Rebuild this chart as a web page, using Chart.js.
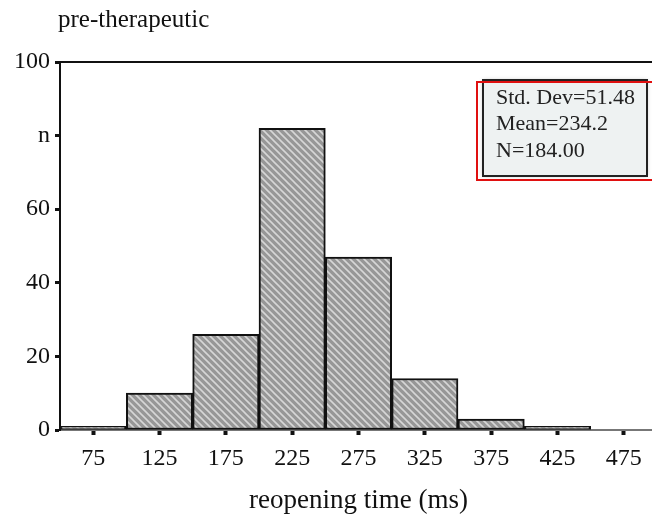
<!DOCTYPE html>
<html>
<head>
<meta charset="utf-8">
<script src="https://cdn.jsdelivr.net/npm/chart.js@4/dist/chart.umd.min.js"></script>
<style>
    html, body { margin: 0; padding: 0; background: #fff; overflow: hidden; }
    #wrap { width: 660px; height: 517px; }
</style>
</head>
<body>
<div id="wrap"><canvas id="histogram" width="660" height="517"></canvas></div>
<script>
// Histogram data
const binLabels = ['75', '125', '175', '225', '275', '325', '375', '425', '475'];
const counts = [1, 10, 26, 82, 47, 14, 3, 1, 0];
const yTickValues = [0, 20, 40, 60, 80, 100];
const yTickLabels = ['0', '20', '40', '60', 'n', '100'];
const statLines = ['Std. Dev=51.48', 'Mean=234.2', 'N=184.00'];
const panelTitle = 'pre-therapeutic';
const xTitle = 'reopening time (ms)';

const serif = '"Liberation Serif", "Times New Roman", serif';

// Grey fill with light diagonal hatching
function makeHatch() {
    const size = 7;
    const c = document.createElement('canvas');
    c.width = size;
    c.height = size;
    const g = c.getContext('2d');
    g.fillStyle = '#979797';
    g.fillRect(0, 0, size, size);
    g.strokeStyle = '#d6d6d6';
    g.lineWidth = 1.6;
    g.beginPath();
    g.moveTo(-1, -1); g.lineTo(size + 1, size + 1);
    g.moveTo(-1, size - 1); g.lineTo(1, size + 1);
    g.moveTo(size - 1, -1); g.lineTo(size + 1, 1);
    g.stroke();
    return g.createPattern(c, 'repeat');
}

// Title text and the statistics box
const annotations = {
    id: 'annotations',
    afterDraw(chart) {
        const ctx = chart.ctx;
        const area = chart.chartArea;
        ctx.save();

        ctx.fillStyle = '#111';
        ctx.font = '25px ' + serif;
        ctx.textBaseline = 'middle';
        ctx.textAlign = 'left';
        ctx.fillText(panelTitle, area.left - 2, 20);

        const bx = area.left + 423, by = area.top + 18, bw = 164, bh = 96;
        ctx.shadowColor = 'rgba(0,0,0,0.25)';
        ctx.shadowBlur = 4;
        ctx.fillStyle = '#eef2f2';
        ctx.fillRect(bx, by, bw, bh);
        ctx.shadowColor = 'transparent';
        ctx.strokeStyle = '#222';
        ctx.lineWidth = 2;
        ctx.strokeRect(bx, by, bw, bh);
        ctx.strokeStyle = '#e01010';
        ctx.lineWidth = 2;
        ctx.strokeRect(bx - 6, by + 2, bw + 20, bh + 2);

        ctx.fillStyle = '#222';
        ctx.font = '22px ' + serif;
        statLines.forEach((line, i) => {
            ctx.fillText(line, bx + 13, by + 18 + i * 26.5);
        });
        ctx.restore();
    }
};

const ctx = document.getElementById('histogram').getContext('2d');
new Chart(ctx, {
    type: 'bar',
    data: {
        labels: binLabels,
        datasets: [{
            data: counts,
            backgroundColor: makeHatch(),
            borderColor: '#111',
            borderWidth: 2,
            borderSkipped: false,
            barPercentage: 1,
            categoryPercentage: 1
        }]
    },
    options: {
        responsive: false,
        animation: false,
        layout: { padding: { top: 62, right: 3, left: 0, bottom: 0 } },
        plugins: {
            legend: { display: false },
            tooltip: { enabled: false }
        },
        scales: {
            x: {
                position: 'bottom',
                grid: {
                    drawOnChartArea: false,
                    offset: false,
                    color: '#111',
                    tickLength: 5,
                    tickWidth: 4
                },
                border: { color: '#777', width: 2 },
                ticks: {
                    color: '#111',
                    padding: 9,
                    font: { family: serif, size: 24 }
                },
                title: {
                    display: true,
                    text: xTitle,
                    color: '#111',
                    font: { family: serif, size: 27 },
                    padding: { top: 8, bottom: 0 }
                },
                afterFit(scale) { scale.height = 87; }
            },
            top: {
                type: 'category',
                position: 'top',
                labels: binLabels,
                grid: { display: false },
                ticks: { display: false },
                border: { color: '#111', width: 2 },
                afterFit(scale) { scale.height = 0; }
            },
            y: {
                min: 0,
                max: 100,
                grid: {
                    drawOnChartArea: false,
                    color: '#111',
                    tickLength: 5,
                    tickWidth: 3
                },
                border: { color: '#111', width: 2 },
                ticks: {
                    stepSize: 20,
                    color: '#111',
                    padding: 5,
                    font: { family: serif, size: 24 },
                    callback: (value) => {
                        const i = yTickValues.indexOf(value);
                        return i >= 0 ? yTickLabels[i] : '';
                    }
                },
                afterFit(scale) { scale.width = 60; }
            }
        }
    },
    plugins: [annotations]
});
</script>
</body>
</html>
